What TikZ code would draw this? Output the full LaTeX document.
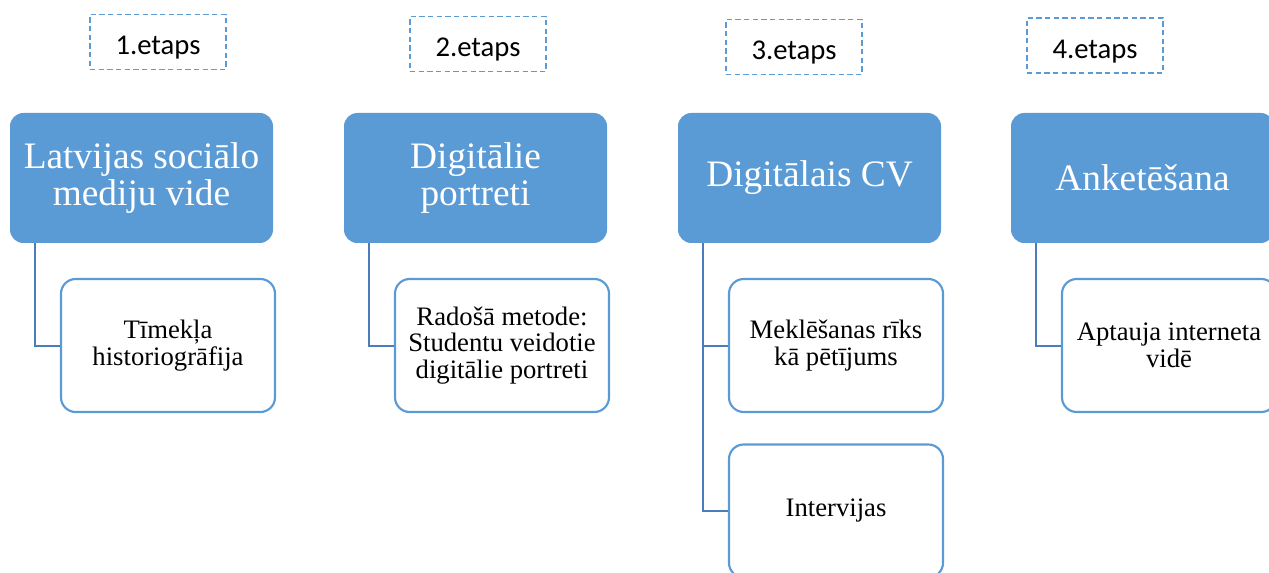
\documentclass[tikz,border=0pt]{standalone}
\usepackage{fontspec}
\setmainfont{Liberation Serif}
\newfontfamily\lblfont{Carlito}
\usetikzlibrary{calc}
\definecolor{mainblue}{HTML}{5B9BD5}
\definecolor{linkblue}{HTML}{4A7EBB}
\tikzset{
  stagebox/.style={rectangle, rounded corners=10pt, fill=mainblue, draw=none,
    minimum width=197.25pt, minimum height=97.5pt, align=center, text=white,
    font=\fontsize{28}{28}\selectfont, inner sep=0pt},
  childbox/.style={rectangle, rounded corners=11pt, fill=white, draw=mainblue, line width=1.6pt,
    minimum width=160.5pt, minimum height=99.75pt, align=center, text=black,
    font=\fontsize{20}{20}\selectfont, inner sep=0pt},
  lblbox/.style={rectangle, draw=mainblue, line width=1.2pt, dash pattern=on 4pt off 2.5pt,
    minimum width=102pt, minimum height=41pt, inner sep=0pt, text height=19.5pt, text depth=0pt,
    font=\lblfont\fontsize{21.5}{22}\selectfont},
  conn/.style={draw=linkblue, line width=1.5pt}
}
\begin{document}
\begin{tikzpicture}[x=0.75pt,y=-0.75pt]
\clip (0,0) rectangle (1269,573);
\useasboundingbox (0,0) rectangle (1269,573);
% labels
\node[lblbox] (l1) at (158,42) {1.etaps};
\node[lblbox] (l2) at (478,44) {2.etaps};
\node[lblbox] (l3) at (794,47) {3.etaps};
\node[lblbox] (l4) at (1095,45.5) {4.etaps};
% stage boxes
\node[stagebox] (b1) at (141.5,178) {Latvijas sociālo\\mediju vide};
\node[stagebox] (b2) at (475.5,178) {Digitālie\\portreti};
\node[stagebox] (b3) at (809.5,178) {Digitālais CV};
\node[stagebox] (b4) at (1142.5,178) {Anketēšana};
% child boxes
\node[childbox] (c1) at (168,345.5) {Tīmekļa\\historiogrāfija};
\node[childbox] (c2) at (502,345.5) {Radošā metode:\\Studentu veidotie\\digitālie portreti};
\node[childbox] (c3a) at (836,345.5) {Meklēšanas rīks\\kā pētījums};
\node[childbox] (c3b) at (836,511) {Intervijas};
\node[childbox] (c4) at (1169,345.5) {Aptauja interneta\\vidē};
% connectors
\coordinate (k1) at ($(b1.south west)+(25,0)$);
\coordinate (k2) at ($(b2.south west)+(25,0)$);
\coordinate (k3) at ($(b3.south west)+(25,0)$);
\coordinate (k4) at ($(b4.south west)+(25,0)$);
\draw[conn] (k1) |- (c1.west);
\draw[conn] (k2) |- (c2.west);
\draw[conn] (k3) |- (c3b.west);
\draw[conn] (k3 |- c3a.west) -- (c3a.west);
\draw[conn] (k4) |- (c4.west);
\end{tikzpicture}
\end{document}
